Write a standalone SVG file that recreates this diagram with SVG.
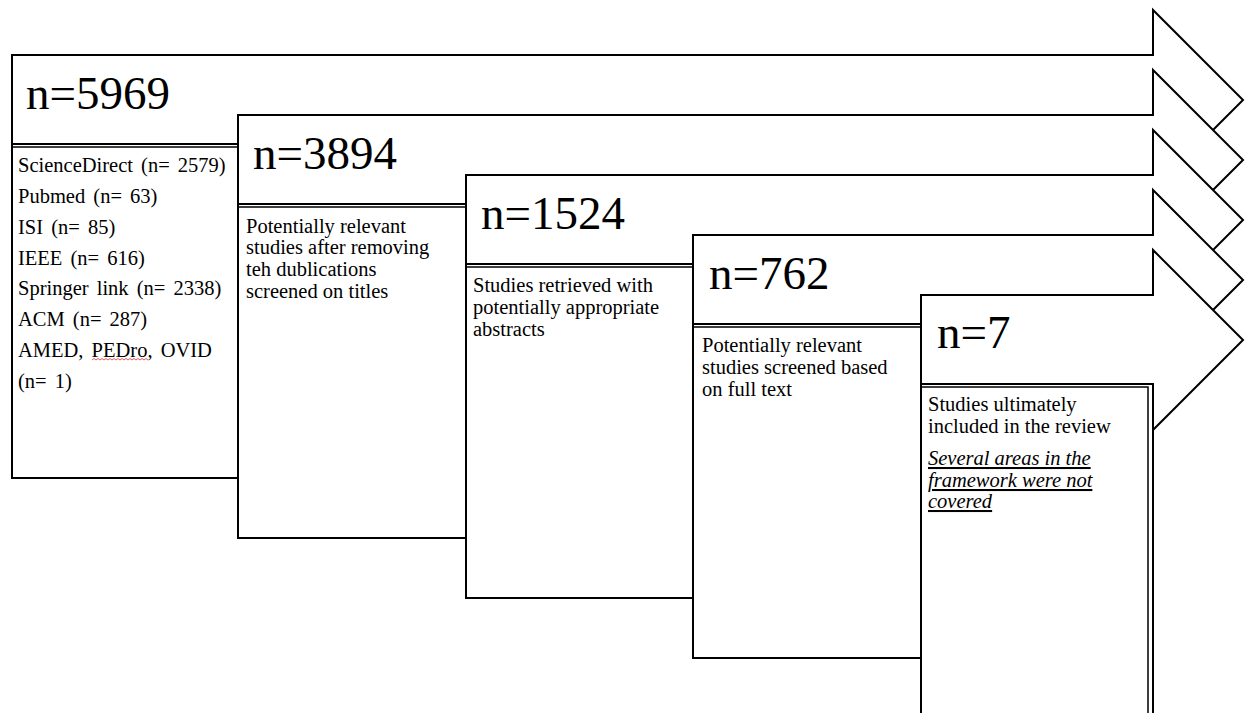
<svg xmlns="http://www.w3.org/2000/svg" width="1248" height="713" viewBox="0 0 1248 713">
<style>
.arrow{fill:#fff;stroke:#000;stroke-width:2;stroke-linejoin:miter}
.box{fill:none;stroke:#000;stroke-width:2}
.inner{fill:none;stroke:#000;stroke-width:1.5}
.hdr{font-family:"Liberation Serif","Times New Roman",serif;font-size:47px;fill:#000}
.txt{font-family:"Liberation Serif","Times New Roman",serif;font-size:20.5px;fill:#000}
.src{word-spacing:3px}
.it{font-family:"Liberation Serif","Times New Roman",serif;font-size:20.5px;font-style:italic;text-decoration:underline;fill:#000}
</style>
<rect width="1248" height="713" fill="#fff"/>
<g id="stage1">
<path class="arrow" d="M12,55 H1153 V10 L1243,100 L1153,190 V478 H12 Z"/>
<rect class="box" x="12" y="144" width="1141" height="334"/>
<polyline class="inner" points="12,147 1148,147 1148,478"/>
<text class="hdr" x="26" y="109">n=5969</text>
<text class="txt src" x="18" y="172">ScienceDirect (n= 2579)</text>
<text class="txt src" x="18" y="203">Pubmed (n= 63)</text>
<text class="txt src" x="18" y="234">ISI (n= 85)</text>
<text class="txt src" x="18" y="265">IEEE (n= 616)</text>
<text class="txt src" x="18" y="295">Springer link (n= 2338)</text>
<text class="txt src" x="18" y="326">ACM (n= 287)</text>
<text class="txt src" x="18" y="357">AMED, PEDro, OVID</text>
<text class="txt src" x="18" y="388">(n= 1)</text>
<path d="M92,360 l2,-1.5 l2,1.5 l2,-1.5 l2,1.5 l2,-1.5 l2,1.5 l2,-1.5 l2,1.5 l2,-1.5 l2,1.5 l2,-1.5 l2,1.5 l2,-1.5 l2,1.5 l2,-1.5 l2,1.5 l2,-1.5 l2,1.5 l2,-1.5 l2,1.5 l2,-1.5 l2,1.5 l2,-1.5 l2,1.5 l2,-1.5 l2,1.5 l2,-1.5 l2,1.5" fill="none" stroke="#e03030" stroke-width="0.8"/>
</g>
<g id="stage2">
<path class="arrow" d="M238,115 H1153 V70 L1243,160 L1153,250 V538 H238 Z"/>
<rect class="box" x="238" y="204" width="915" height="334"/>
<polyline class="inner" points="238,207 1148,207 1148,538"/>
<text class="hdr" x="253" y="169">n=3894</text>
<text class="txt" x="246" y="233">Potentially relevant</text>
<text class="txt" x="246" y="254">studies after removing</text>
<text class="txt" x="246" y="276">teh dublications</text>
<text class="txt" x="246" y="298">screened on titles</text>
</g>
<g id="stage3">
<path class="arrow" d="M466,175 H1153 V130 L1243,220 L1153,310 V598 H466 Z"/>
<rect class="box" x="466" y="264" width="687" height="334"/>
<polyline class="inner" points="466,267 1148,267 1148,598"/>
<text class="hdr" x="481" y="229">n=1524</text>
<text class="txt" x="473" y="292">Studies retrieved with</text>
<text class="txt" x="473" y="314">potentially appropriate</text>
<text class="txt" x="473" y="336">abstracts</text>
</g>
<g id="stage4">
<path class="arrow" d="M693,235 H1153 V190 L1243,280 L1153,370 V658 H693 Z"/>
<rect class="box" x="693" y="324" width="460" height="334"/>
<polyline class="inner" points="693,327 1148,327 1148,658"/>
<text class="hdr" x="709" y="289">n=762</text>
<text class="txt" x="702" y="352">Potentially relevant</text>
<text class="txt" x="702" y="374">studies screened based</text>
<text class="txt" x="702" y="396">on full text</text>
</g>
<g id="stage5">
<path class="arrow" d="M921,295 H1153 V250 L1243,340 L1153,430 V730 H921 Z"/>
<rect class="box" x="921" y="384" width="232" height="346"/>
<polyline class="inner" points="921,387 1148,387 1148,730"/>
<text class="hdr" x="937" y="348">n=7</text>
<text class="txt" x="928" y="411">Studies ultimately</text>
<text class="txt" x="928" y="433">included in the review</text>
<text class="it" x="928" y="465">Several areas in the</text>
<text class="it" x="928" y="487">framework were not</text>
<text class="it" x="928" y="508">covered</text>
</g>
<g id="connectors"></g>
</svg>
